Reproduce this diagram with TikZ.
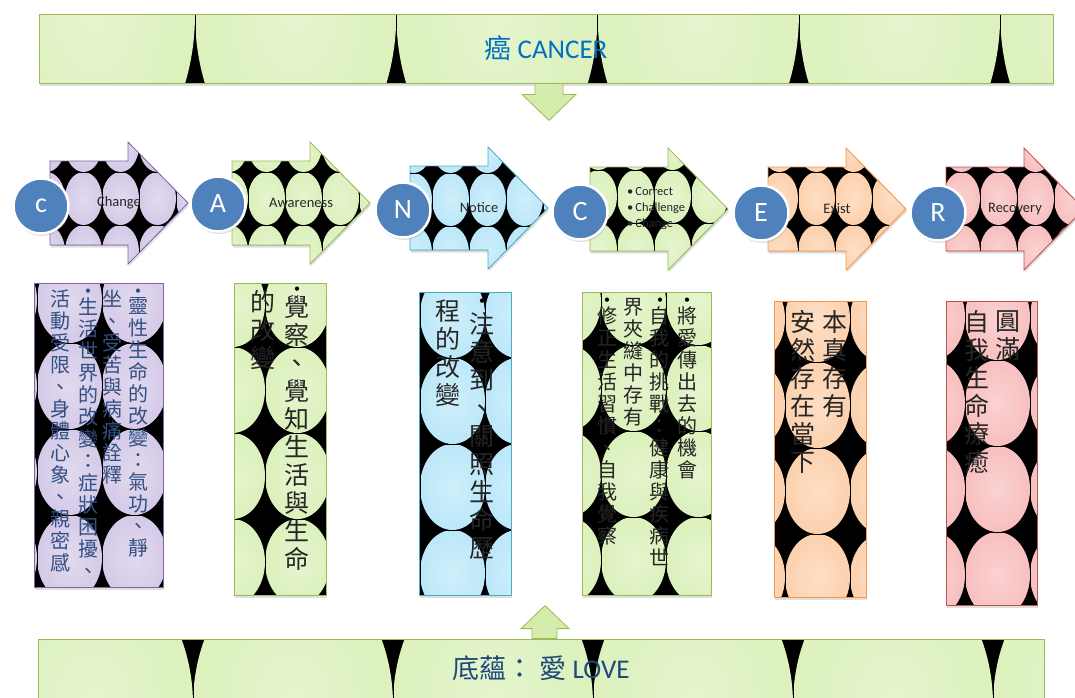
\documentclass[tikz,border=0pt]{standalone}
\usepackage{fontspec}
\setmainfont{Carlito}
\newfontfamily\cjk{Noto Sans CJK TC}
\usetikzlibrary{calc, shadows}

\definecolor{grnA}{RGB}{205,235,160}
\definecolor{purA}{RGB}{195,180,222}
\definecolor{bluA}{RGB}{160,222,246}
\definecolor{oraA}{RGB}{251,190,140}
\definecolor{pnkA}{RGB}{245,165,165}
\definecolor{grnline}{RGB}{155,187,89}
\definecolor{purline}{RGB}{128,100,162}
\definecolor{bluline}{RGB}{75,172,198}
\definecolor{oraline}{RGB}{247,150,70}
\definecolor{pnkline}{RGB}{192,80,77}
\definecolor{grnlink}{RGB}{214,236,172}
\definecolor{circblue}{RGB}{79,129,189}
\definecolor{cancerblue}{RGB}{0,112,192}
\definecolor{lovenavy}{RGB}{31,73,125}
\definecolor{boxnavy}{RGB}{50,80,130}
\colorlet{tilecol}{grnA}
\pgfdeclareradialshading[tilecol]{tileshade}{\pgfpoint{0bp}{0bp}}
  {color(0bp)=(tilecol!50!white); color(30bp)=(tilecol!75!white); color(50bp)=(tilecol)}

% one character per line, top to bottom
\makeatletter
\newcommand\vcol[1]{\vbox{\@tfor\vch:=#1\do{\hbox to 1em{\hss\vch\hss}}}}
\makeatother

\begin{document}
\begin{tikzpicture}[x=1pt, y=-1pt,
    tiles/.style n args={7}{path picture={
        \colorlet{tilecol}{#1}
        \fill[black] (path picture bounding box.north west) rectangle (path picture bounding box.south east);
        \foreach \i in {0,...,#6} \foreach \j in {0,...,#7}
          \shade[shading=tileshade]
            ($(path picture bounding box.north west)+({#4+(\i-0.5)*#2},{#5+(\j-0.5)*#3})$)
            ellipse [x radius={#2/2*1pt}, y radius={#3/2*1pt}];
        \foreach \i in {0,...,#6}
          \draw[black, line width=0.3pt] ($(path picture bounding box.north west)+({#4+\i*#2},-5)$) -- ++(0,700);
        \foreach \j in {0,...,#7}
          \draw[black, line width=0.3pt] ($(path picture bounding box.north west)+(-5,{#5+\j*#3})$) -- ++(1100,0);
    }},
    soft/.style={drop shadow={opacity=0.25, shadow xshift=1pt, shadow yshift=-2.5pt}},
    banner/.style={rectangle, draw=grnline, line width=0.8pt, inner sep=0, soft},
    link/.style={draw=grnline, fill=grnlink, line width=0.8pt},
    arrowbox/.style={draw=#1, line width=0.8pt, soft},
    textbox/.style={rectangle, draw=#1, line width=0.8pt, inner sep=0, soft},
    circ/.style={circle, fill=circblue, draw=white, line width=2.5pt, minimum size=55,
                 inner sep=0, text=white, font=\fontsize{28}{28}\selectfont, soft},
    lbl/.style={inner sep=0, text=black!85, font=\fontsize{14.5}{16}\selectfont},
    vsmall/.style={inner sep=0, anchor=north, font=\cjk\fontsize{20}{22}\selectfont},
    vlarge/.style={inner sep=0, anchor=north, font=\cjk\fontsize{25}{28}\selectfont},
    bul/.style={inner sep=0, font=\fontsize{12}{12}\selectfont},
]
\useasboundingbox (0,0) rectangle (1075,697);

% Banners
\node[banner, minimum width=1014, minimum height=69, tiles={grnA}{201.3}{320}{156}{160}{5}{0},
      text=cancerblue, font=\fontsize{27}{30}\selectfont] (cancer) at (546,48.5) {{\cjk 癌} CANCER};
\node[banner, minimum width=1006, minimum height=59, tiles={grnA}{200}{282}{155}{-75}{5}{1},
      text=lovenavy, font=\fontsize{27}{30}\selectfont] (love) at (541,668.5) {{\cjk 底蘊：} {\cjk 愛} LOVE};

% Links
\draw[link] ($(cancer.south)+(-11,0)$) -- ++(28,0) -- ++(0,11) -- ++(13,0) -- ++(-27,26) -- ++(-27,-26) -- ++(13,0) -- cycle;
\draw[link] ($(love.north)+(-9,0)$) -- ++(0,-10) -- ++(-11,0) -- ++(24,-23) -- ++(24,23) -- ++(-12,0) -- ++(0,10) -- cycle;

% Steps
\path[arrowbox=purline, tiles={purA}{37}{53}{15}{30}{4}{2}]
  (50,161) -- ++(78,0) -- ++(0,-19) -- ++(60,61) -- ++(-60,61) -- ++(0,-19) -- ++(-78,0) -- cycle;
\path[arrowbox=grnline, tiles={grnA}{37}{53}{16}{30}{4}{2}]
  (232,161) -- ++(78,0) -- ++(0,-19) -- ++(60,61) -- ++(-60,61) -- ++(0,-19) -- ++(-78,0) -- cycle;
\path[arrowbox=bluline, tiles={bluA}{37}{53}{22}{26}{4}{2}]
  (410,166) -- ++(78,0) -- ++(0,-19) -- ++(60,61) -- ++(-60,61) -- ++(0,-19) -- ++(-78,0) -- cycle;
\path[arrowbox=grnline, tiles={grnA}{37}{53}{27}{22}{4}{2}]
  (590,167) -- ++(78,0) -- ++(0,-19) -- ++(60,61) -- ++(-60,61) -- ++(0,-19) -- ++(-78,0) -- cycle;
\path[arrowbox=oraline, tiles={oraA}{37}{53}{30}{24}{4}{2}]
  (768,167) -- ++(78,0) -- ++(0,-19) -- ++(60,61) -- ++(-60,61) -- ++(0,-19) -- ++(-78,0) -- cycle;
\path[arrowbox=pnkline, tiles={pnkA}{37}{53}{34}{24}{4}{2}]
  (946,167) -- ++(78,0) -- ++(0,-19) -- ++(60,61) -- ++(-60,61) -- ++(0,-19) -- ++(-78,0) -- cycle;

\node[lbl] (chg) at (119,203) {Change};
\node[lbl] (awr) at (301,203) {Awareness};
\node[lbl] (ntc) at (479,208) {Notice};
\node[lbl, anchor=west, align=left, font=\fontsize{12.5}{16}\selectfont] (crr) at (627,209)
  {•\kern2pt Correct\\•\kern2pt Challenge\\•\kern2pt Change};
\node[lbl] (exs) at (837,209) {Exist};
\node[lbl] (rcv) at (1015,209) {Recovery};

% Letters
\node[circ] (kc) at (41,206) {c};
\node[circ] (ka) at (218,204) {A};
\node[circ] (kn) at (403,210) {N};
\node[circ] (kc2) at (580,212) {C};
\node[circ] (ke) at (761,213) {E};
\node[circ] (kr) at (938,213) {R};

% Text boxes
\node[textbox=purline, minimum width=129, minimum height=304, tiles={purA}{65}{86}{3}{60}{2}{4}] (b1) at (98.5,435) {};
\node[textbox=grnline, minimum width=92, minimum height=312, tiles={grnA}{65}{86}{31}{64}{2}{4}] (b2) at (280,439) {};
\node[textbox=bluline, minimum width=92, minimum height=303, tiles={bluA}{65}{86}{1}{66}{2}{4}] (b3) at (465,443.5) {};
\node[textbox=grnline, minimum width=129, minimum height=303, tiles={grnA}{65}{86}{19}{53}{2}{4}] (b4) at (646.5,443.5) {};
\node[textbox=oraline, minimum width=92, minimum height=296, tiles={oraA}{65}{86}{11}{61}{2}{4}] (b5) at (820,449) {};
\node[textbox=pnkline, minimum width=91, minimum height=304, tiles={pnkA}{65}{86}{19}{59}{2}{4}] (b6) at (991.5,453) {};

% Columns, right to left
\node[vsmall, text=boxnavy] (t11) at (138,297) {\vcol{靈性生命的改變：氣功、靜}};
\node[vsmall, text=boxnavy] (t12) at (112,290) {\vcol{坐、受苦與病痛詮釋}};
\node[vsmall, text=boxnavy] (t13) at (88,297) {\vcol{生活世界的改變：症狀困擾、}};
\node[vsmall, text=boxnavy] (t14) at (60,290) {\vcol{活動受限、身體心象、親密感}};
\node[bul, text=boxnavy] (d11) at (138,292) {•};
\node[bul, text=boxnavy] (d13) at (88,292) {•};

\node[vlarge, text=black!85] (t21) at (297,295) {\vcol{覺察、覺知生活與生命}};
\node[vlarge, text=black!85] (t22) at (263,290) {\vcol{的改變}};
\node[bul] (d21) at (297,290) {•};

\node[vlarge, text=black!85] (t31) at (482,312) {\vcol{注意到、關照生命歷}};
\node[vlarge, text=black!85] (t32) at (448,300) {\vcol{程的改變}};
\node[bul] (d31) at (482,302) {•};

\node[vsmall, text=black!85] (t41) at (687,306) {\vcol{將愛傳出去的機會}};
\node[vsmall, text=black!85] (t42) at (659,306) {\vcol{自我的挑戰：健康與疾病世}};
\node[vsmall, text=black!85] (t43) at (633,298) {\vcol{界夾縫中存有}};
\node[vsmall, text=black!85] (t44) at (607,306) {\vcol{修正生活習慣、自我覺察}};
\node[bul] (d41) at (687,301) {•};
\node[bul] (d42) at (660,301) {•};
\node[bul] (d44) at (607,301) {•};

\node[vlarge, text=black!85] (t51) at (835,310) {\vcol{本真存有}};
\node[vlarge, text=black!85] (t52) at (803,310) {\vcol{安然存在當下}};

\node[vlarge, text=black!85] (t61) at (1008,310) {\vcol{圓滿}};
\node[vlarge, text=black!85] (t62) at (977,310) {\vcol{自我生命療癒}};

\end{tikzpicture}
\end{document}
